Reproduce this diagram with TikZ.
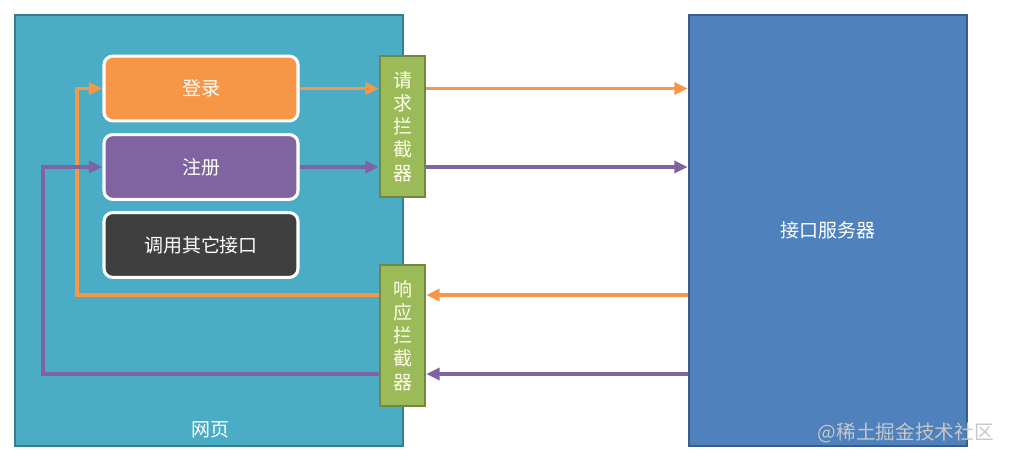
\documentclass[tikz,border=0pt]{standalone}
\usepackage{fontspec}
\usepackage{tikz}
\usetikzlibrary{arrows.meta}
\usetikzlibrary{positioning}
\newfontfamily\cjk{Noto Sans CJK SC}
\definecolor{pagefill}{HTML}{4BACC6}
\definecolor{pageline}{HTML}{357D91}
\definecolor{serverfill}{HTML}{4F81BD}
\definecolor{serverline}{HTML}{385D8A}
\definecolor{loginorange}{HTML}{F79646}
\definecolor{regpurple}{HTML}{8064A2}
\definecolor{otherdark}{HTML}{3F3F3F}
\definecolor{interfill}{HTML}{9BBB59}
\definecolor{interline}{HTML}{71893F}
\tikzset{
  every node/.style={inner sep=0, font=\cjk\fontsize{13.5}{16.5}\selectfont, text=white},
  bigbox/.style={draw, rectangle, line width=1.6pt},
  button/.style={draw=white, rectangle, rounded corners=0.22cm, line width=2.2pt, minimum width=4.85cm, minimum height=1.62cm},
  interceptor/.style={draw=interline, fill=interfill, rectangle, line width=1.6pt, minimum width=1.125cm, minimum height=3.525cm, align=center, text=white!92!yellow},
  flow/.style={line width=2.4pt, -{Triangle[length=3.4mm, width=3mm]}}
}

\begin{document}
\begin{tikzpicture}
    \useasboundingbox (0,0) rectangle (25.25,-11.5);

    % Web page
    \node[bigbox, draw=pageline, fill=pagefill, minimum width=9.7cm, minimum height=10.775cm] (page) at (5.225,-5.7625) {};
    \node (pagelabel) at (5.25,-10.75) {网页};

    % Interface server
    \node[bigbox, draw=serverline, fill=serverfill, minimum width=6.95cm, minimum height=10.775cm] (server) at (20.7,-5.7625) {接口服务器};

    % Buttons
    \node[button, fill=loginorange] (login) at (5.025,-2.2125) {登录};
    \node[button, fill=regpurple] (register) at (5.025,-4.175) {注册};
    \node[button, fill=otherdark] (other) at (5.025,-6.125) {调用其它接口};

    % Interceptors
    \node[interceptor] (reqint) at (10.0625,-3.1625) {请\\求\\拦\\截\\器};
    \node[interceptor] (respint) at (10.0625,-8.3875) {响\\应\\拦\\截\\器};

    % Turning points of the way back
    \coordinate (orback) at (1.925,-7.375);
    \coordinate (purback) at (1.075,-9.35);

    % Requests
    \draw[flow, loginorange] (login.east) -- (login -| reqint.west);
    \draw[flow, loginorange] (reqint.east |- login) -- (server.west |- login);
    \draw[flow, regpurple] (register.east) -- (register -| reqint.west);
    \draw[flow, regpurple] (reqint.east |- register) -- (server.west |- register);

    % Responses
    \draw[flow, loginorange] (server.west |- orback) -- (respint.east |- orback);
    \draw[flow, loginorange] (respint.west |- orback) -- (orback) |- (login.west);
    \draw[flow, regpurple] (server.west |- purback) -- (respint.east |- purback);
    \draw[flow, regpurple] (respint.west |- purback) -- (purback) |- (register.west);

    % Watermark
    \node[text=black!22, font=\cjk\fontsize{14}{16}\selectfont] (mark) at (22.65,-10.83) {@稀土掘金技术社区};
\end{tikzpicture}
\end{document}
